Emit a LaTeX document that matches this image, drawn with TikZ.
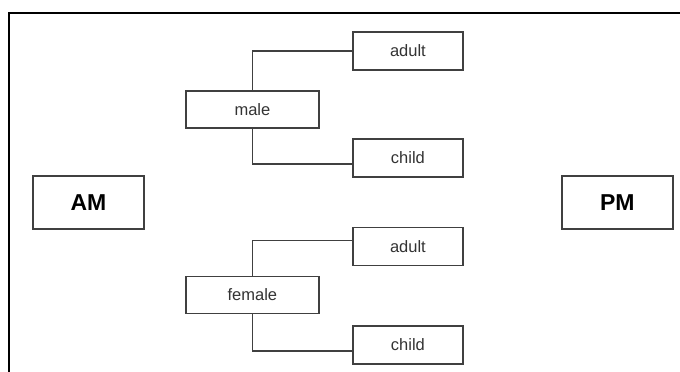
\documentclass[tikz,border=0pt]{standalone}
\usepackage{fontspec}
\setmainfont{Liberation Sans}
\usetikzlibrary{matrix}

\begin{document}
\begin{tikzpicture}[x=1pt,y=-1pt,
  cell/.style={draw=black!75,line width=1.4pt,anchor=center,inner sep=0pt,text=black!80,font=\fontsize{16.5}{18}\selectfont},
  group/.style={cell,minimum width=133pt,minimum height=37pt},
  leaf/.style={cell,minimum width=110pt,minimum height=38pt},
  clock/.style={cell,minimum width=111pt,minimum height=53pt,text=black,font=\fontsize{23}{26}\selectfont\bfseries}]
\useasboundingbox (0,0) rectangle (680,372);
\draw[line width=2pt] (9,372) |- (680,12.5);
\matrix (m) [matrix of nodes, anchor=north west, inner sep=0pt, column sep=0pt, row sep=0pt] at (32,31)
{
                &[164pt,between origins]   &[155.5pt,between origins] |[leaf]| adult &[209.5pt,between origins] \\[58.5pt,between origins]
                & |[group]| male           &                          &                \\[48.5pt,between origins]
                &                          & |[leaf]| child           &                \\[44.5pt,between origins]
  |[clock]| AM  &                          &                          & |[clock]| PM   \\[44pt,between origins]
                &                          & |[leaf]| adult           &                \\[48.5pt,between origins]
                & |[group]| female         &                          &                \\[50pt,between origins]
                &                          & |[leaf]| child           &                \\
};
\path[draw=black!75,line width=1.4pt]
(m-2-2.north) |- (m-1-3.west)
(m-2-2.south) |- ([yshift=-6pt]m-3-3.west)
(m-6-2.north) |- ([yshift=6pt]m-5-3.west)
(m-6-2.south) |- ([yshift=-6pt]m-7-3.west)
;
\end{tikzpicture}
\end{document}
